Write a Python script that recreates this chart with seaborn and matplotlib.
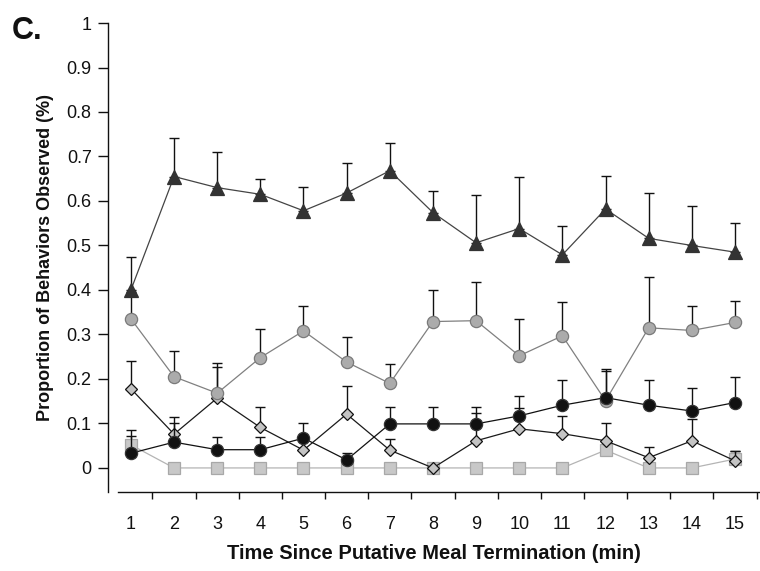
import numpy as np
import pandas as pd
import matplotlib
matplotlib.use("Agg")
import matplotlib.pyplot as plt
import seaborn as sns

sns.set_theme(style="white")
plt.rcParams["font.family"] = ["Liberation Sans", "DejaVu Sans"]

# Minutes after putative meal termination
minutes = list(range(1, 16))

# Mean proportion of each behavior and upper SEM per minute
triangle_mean = [0.400, 0.655, 0.630, 0.615, 0.578, 0.618, 0.668, 0.574, 0.506, 0.538, 0.479, 0.582, 0.516, 0.500, 0.485]
triangle_sem = [0.075, 0.087, 0.081, 0.035, 0.054, 0.068, 0.063, 0.049, 0.108, 0.116, 0.065, 0.074, 0.102, 0.089, 0.066]

gray_circle_mean = [0.335, 0.205, 0.168, 0.248, 0.308, 0.238, 0.190, 0.329, 0.331, 0.252, 0.297, 0.151, 0.315, 0.309, 0.327]
gray_circle_sem = [0.060, 0.057, 0.068, 0.065, 0.057, 0.057, 0.043, 0.071, 0.086, 0.082, 0.075, 0.067, 0.115, 0.056, 0.049]

black_circle_mean = [0.033, 0.058, 0.041, 0.041, 0.067, 0.018, 0.099, 0.099, 0.099, 0.117, 0.141, 0.158, 0.141, 0.128, 0.147]
black_circle_sem = [0.052, 0.044, 0.029, 0.029, 0.033, 0.016, 0.038, 0.038, 0.038, 0.045, 0.056, 0.065, 0.056, 0.051, 0.058]

diamond_mean = [0.178, 0.076, 0.157, 0.091, 0.040, 0.121, 0.040, 0.000, 0.061, 0.088, 0.077, 0.061, 0.023, 0.061, 0.016]
diamond_sem = [0.063, 0.039, 0.069, 0.046, 0.030, 0.063, 0.025, 0.000, 0.063, 0.047, 0.040, 0.041, 0.025, 0.050, 0.021]

square_mean = [0.052, 0.0, 0.0, 0.0, 0.0, 0.0, 0.0, 0.0, 0.0, 0.0, 0.0, 0.040, 0.0, 0.0, 0.020]
square_sem = [0.020, 0.0, 0.0, 0.0, 0.0, 0.0, 0.0, 0.0, 0.0, 0.0, 0.0, 0.020, 0.0, 0.0, 0.017]

y_ticks = [0, 0.1, 0.2, 0.3, 0.4, 0.5, 0.6, 0.7, 0.8, 0.9, 1]
y_tick_labels = ["0", "0.1", "0.2", "0.3", "0.4", "0.5", "0.6", "0.7", "0.8", "0.9", "1"]

series = [
    # mean, sem, marker, size, face, edge, line colour, zorder
    (square_mean, square_sem, "s", 8.6, "#c8c8c8", "#a8a8a8", "#b4b4b4", 2),
    (diamond_mean, diamond_sem, "D", 6.6, "#c4c4c4", "#111111", "#1a1a1a", 3),
    (gray_circle_mean, gray_circle_sem, "o", 8.8, "#ababab", "#7a7a7a", "#808080", 4),
    (black_circle_mean, black_circle_sem, "o", 8.8, "#111111", "#333333", "#111111", 5),
    (triangle_mean, triangle_sem, "^", 9.6, "#333333", "#333333", "#444444", 6),
]

fig = plt.figure(figsize=(7.6, 5.71), dpi=100)
ax = fig.add_axes([0.1425, 0.1384, 0.8575, 0.8213])

for mean, sem, marker, size, face, edge, line_col, z in series:
    df = pd.DataFrame({"minute": minutes, "value": mean})
    ax.errorbar(minutes, mean, yerr=[np.zeros(len(sem)), sem], fmt="none",
                ecolor="#111111", elinewidth=1.0, capsize=3.6, capthick=1.0,
                zorder=z - 0.5)
    sns.lineplot(data=df, x="minute", y="value", ax=ax, color=line_col,
                 linewidth=0.9, marker=marker, markersize=size,
                 markerfacecolor=face, markeredgecolor=edge,
                 markeredgewidth=0.9, zorder=z)

ax.set_xlim(0.476, 15.58)
ax.set_ylim(-0.054, 1.0)

ax.set_yticks(y_ticks)
ax.set_yticklabels(y_tick_labels)
ax.set_xticks(minutes)
ax.set_xticklabels([str(m) for m in minutes])
ax.set_xticks([m + 0.5 for m in minutes], minor=True)

ax.tick_params(axis="y", which="major", length=7, width=1.0, color="#111111",
               direction="out", left=True, labelsize=13, pad=5, labelcolor="#111111")
ax.tick_params(axis="x", which="major", length=0, labelsize=13, pad=17,
               labelcolor="#111111")
ax.tick_params(axis="x", which="minor", length=5, width=1.0, color="#111111",
               direction="out", bottom=True)

for side in ("top", "right"):
    ax.spines[side].set_visible(False)
for side in ("left", "bottom"):
    ax.spines[side].set_color("#111111")
    ax.spines[side].set_linewidth(1.0)
ax.spines["bottom"].set_bounds(0.70, 15.58)

ax.set_xlabel("Time Since Putative Meal Termination (min)", fontsize=14.5,
              fontweight="bold", color="#111111", labelpad=8)
ax.set_ylabel("Proportion of Behaviors Observed (%)", fontsize=13,
              fontweight="bold", color="#111111", labelpad=9)

fig.text(0.015, 0.945, "C.", fontsize=22, fontweight="bold", color="#111111",
         ha="left", va="center")

fig.savefig("out.png", dpi=100, facecolor="white")
